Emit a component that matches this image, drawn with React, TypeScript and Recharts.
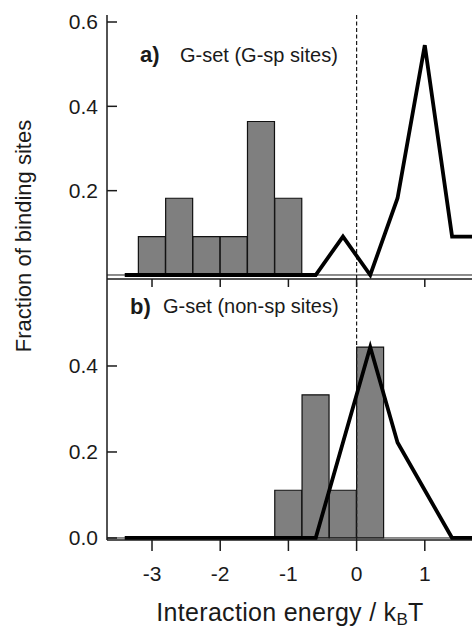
import {
  ComposedChart,
  Bar,
  Line,
  XAxis,
  YAxis,
  ReferenceLine,
} from "recharts";

// bin centres (k_BT), shared by histogram bars and the line
const energy = [-3.4, -3.0, -2.6, -2.2, -1.8, -1.4, -1.0, -0.6, -0.2, 0.2, 0.6, 1.0, 1.4, 1.8];

// a) G-set (G-sp sites)
const gSpBars = [null, 0.091, 0.182, 0.091, 0.091, 0.364, 0.182, null, null, null, null, null, null, null];
const gSpLine = [0, 0, 0, 0, 0, 0, 0, 0, 0.091, 0, 0.182, 0.545, 0.091, 0.091];

// b) G-set (non-sp sites)
const nonSpBars = [null, null, null, null, null, null, 0.111, 0.333, 0.111, 0.444, null, null, null, null];
const nonSpLine = [0, 0, 0, 0, 0, 0, 0, 0, 0.222, 0.444, 0.222, 0.111, 0, 0];

const xTicks = [-3, -2, -1, 0, 1];
const topYTicks = [0.2, 0.4, 0.6];
const bottomYTicks = [0, 0.2, 0.4];

const FONT = "'Liberation Sans', Arial, sans-serif";
const AXIS = "#1a1a1a";
const X_DOMAIN: [number, number] = [-3.66, 2.0];

const topData = energy.map((e, i) => ({ e, bar: gSpBars[i], line: gSpLine[i] }));
const bottomData = energy.map((e, i) => ({ e, bar: nonSpBars[i], line: nonSpLine[i] }));

const tickStyle = { fill: "#1a1a1a", fontSize: 21, fontFamily: FONT };

function Panel({
  data,
  height,
  margin,
  yDomain,
  yTicks,
  xHeight,
  showXLabels,
}: {
  data: { e: number; bar: number | null; line: number }[];
  height: number;
  margin: { top: number; right: number; bottom: number; left: number };
  yDomain: [number, number];
  yTicks: number[];
  xHeight: number;
  showXLabels: boolean;
}) {
  return (
    <ComposedChart width={493} height={height} data={data} margin={margin} barCategoryGap={0}>
      {!showXLabels && (
        <XAxis
          xAxisId="frame"
          orientation="top"
          type="number"
          dataKey="e"
          domain={X_DOMAIN}
          allowDataOverflow
          height={0}
          tick={false}
          axisLine={{ stroke: AXIS, strokeWidth: 1.5 }}
          tickLine={false}
        />
      )}
      <XAxis
        type="number"
        dataKey="e"
        domain={X_DOMAIN}
        allowDataOverflow
        ticks={xTicks}
        height={xHeight}
        tickSize={showXLabels ? 11 : 8}
        tickMargin={15}
        tickFormatter={(v: number) => (showXLabels ? String(v) : "")}
        tick={tickStyle}
        axisLine={{ stroke: AXIS, strokeWidth: 1.5 }}
        tickLine={{ stroke: AXIS, strokeWidth: 1.5 }}
      />
      <YAxis
        type="number"
        domain={yDomain}
        allowDataOverflow
        ticks={yTicks}
        width={107}
        tickSize={-10}
        tickMargin={19}
        tickFormatter={(v: number) => v.toFixed(1)}
        tick={tickStyle}
        axisLine={{ stroke: AXIS, strokeWidth: 1.5 }}
        tickLine={{ stroke: AXIS, strokeWidth: 1.5 }}
      />
      <ReferenceLine y={0} stroke={AXIS} strokeWidth={1} />
      <ReferenceLine x={0} stroke={AXIS} strokeWidth={1.2} strokeDasharray="4 2.5" />
      <Bar dataKey="bar" fill="#7f7f7f" stroke="#111" strokeWidth={1.2} isAnimationActive={false} />
      <Line
        dataKey="line"
        type="linear"
        stroke="#000"
        strokeWidth={3.8}
        dot={false}
        activeDot={false}
        isAnimationActive={false}
      />
    </ComposedChart>
  );
}

export default function App() {
  return (
    <div
      style={{
        position: "absolute",
        left: 0,
        top: 0,
        width: 472,
        height: 630,
        overflow: "hidden",
        background: "#fff",
        fontFamily: FONT,
      }}
    >
      <div style={{ position: "absolute", left: 0, top: 0 }}>
        <Panel
          data={topData}
          height={300}
          margin={{ top: 15, right: 0, bottom: 11, left: 0 }}
          yDomain={[-0.0095, 0.6166]}
          yTicks={topYTicks}
          xHeight={10}
          showXLabels={false}
        />
      </div>
      <div style={{ position: "absolute", left: 0, top: 0 }}>
        <Panel
          data={bottomData}
          height={630}
          margin={{ top: 279, right: 0, bottom: 30, left: 0 }}
          yDomain={[-0.0047, 0.6023]}
          yTicks={bottomYTicks}
          xHeight={60}
          showXLabels={true}
        />
      </div>
      <svg
        width={472}
        height={630}
        style={{ position: "absolute", left: 0, top: 0, pointerEvents: "none" }}
      >
        <g fontFamily={FONT} fill="#1a1a1a">
          <text x={140} y={62} fontSize={22} fontWeight="bold">a)</text>
          <text x={180} y={62} fontSize={20}>G-set (G-sp sites)</text>
          <text x={130} y={314} fontSize={22} fontWeight="bold">b)</text>
          <text x={163} y={313} fontSize={20}>G-set (non-sp sites)</text>
          <text
            x={0}
            y={0}
            fontSize={22}
            textAnchor="middle"
            dominantBaseline="central"
            transform="translate(23,236) rotate(-90)"
          >
            Fraction of binding sites
          </text>
          <text x={290} y={621} fontSize={25} textAnchor="middle" letterSpacing={0.3}>
            Interaction energy / k
            <tspan fontSize={17} dy={4}>B</tspan>
            <tspan dy={-4}>T</tspan>
          </text>
        </g>
      </svg>
    </div>
  );
}
